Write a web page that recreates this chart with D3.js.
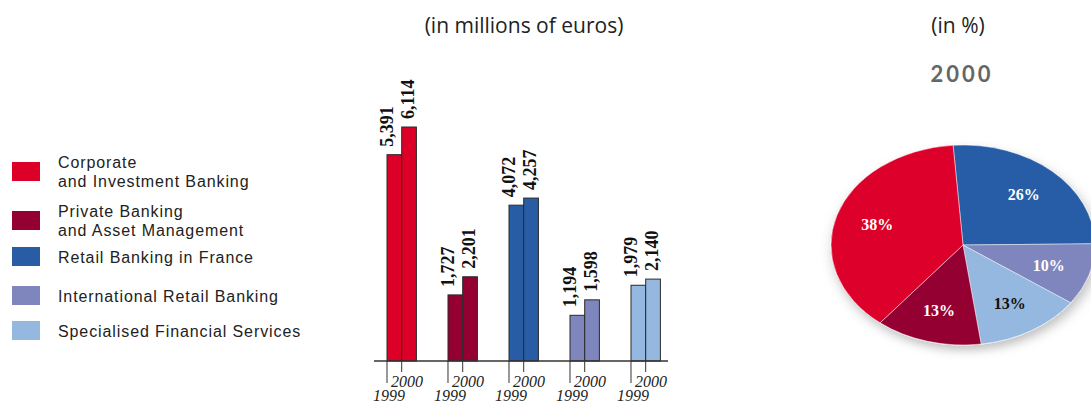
<!DOCTYPE html>
<html>
<head>
<meta charset="utf-8">
<script src="https://cdn.jsdelivr.net/npm/d3@7"></script>
<style>
  body { margin: 0; background: #fff; }
  svg { display: block; }
</style>
</head>
<body>
<svg id="chart" width="1091" height="403"></svg>
<script>
// data
var categories = ["Corporate\nand Investment Banking", "Private Banking\nand Asset Management",
  "Retail Banking in France", "International Retail Banking", "Specialised Financial Services"];
var years = ["1999", "2000"];
var values1999 = [5391, 1727, 4072, 1194, 1979];
var values2000 = [6114, 2201, 4257, 1598, 2140];
var pieShares = [38, 13, 26, 10, 13];      // 2000, in %
var pieOrder = [2, 3, 4, 1, 0];            // clockwise from top
var colors = ["#dc0029", "#940032", "#285da6", "#7e86bd", "#94b8df"];

var svg = d3.select("#chart");

// titles
svg.append("text").attr("x", 524).attr("y", 33).attr("text-anchor", "middle")
  .style("font-family", "Open Sans").style("font-size", "21px").attr("fill", "#222")
  .text("(in millions of euros)");
svg.append("text").attr("x", 958).attr("y", 33).attr("text-anchor", "middle")
  .style("font-family", "Open Sans").style("font-size", "21px").attr("fill", "#222")
  .text("(in %)");
svg.append("text").attr("x", 962).attr("y", 82).attr("text-anchor", "middle")
  .style("font-family", "Lato").style("font-weight", "bold").style("font-size", "22px")
  .style("letter-spacing", "3px").attr("fill", "#666")
  .text("2000");

// legend
var legendY = [162, 211, 247, 286, 321];
var lg = svg.append("g").selectAll("g").data(categories).enter().append("g")
  .attr("transform", function(d, i) { return "translate(0," + legendY[i] + ")"; });
lg.append("rect").attr("x", 12).attr("y", 0).attr("width", 28).attr("height", 19)
  .attr("fill", function(d, i) { return colors[i]; });
lg.append("text")
  .style("font-family", "Liberation Sans").style("font-size", "16px")
  .style("letter-spacing", "0.9px").attr("fill", "#222")
  .each(function(d) {
    var lines = d.split("\n");
    var t = d3.select(this);
    lines.forEach(function(l, k) {
      var y0 = lines.length > 1 ? 6 : 16;
      t.append("tspan").attr("x", 58).attr("y", y0 + k * 19).text(l);
    });
  });

// bars
var x0 = d3.scaleBand().domain(categories).range([387, 660.4]).paddingInner(0.518);
var x1 = d3.scaleBand().domain(years).range([0, x0.bandwidth()]);
var y = d3.scaleLinear().domain([0, 6114]).range([361, 127]);

var groups = svg.append("g").selectAll("g").data(categories).enter().append("g")
  .attr("transform", function(d) { return "translate(" + x0(d) + ",0)"; });

groups.each(function(c, i) {
  var g = d3.select(this);
  var vals = [values1999[i], values2000[i]];
  g.selectAll("rect").data(vals).enter().append("rect")
    .attr("x", function(d, j) { return x1(years[j]); })
    .attr("y", function(d) { return y(d); })
    .attr("width", x1.bandwidth())
    .attr("height", function(d) { return y(0) - y(d); })
    .attr("fill", colors[i])
    .attr("stroke", "#2a2a2a").attr("stroke-width", 1);

  g.selectAll("text.val").data(vals).enter().append("text")
    .attr("class", "val")
    .attr("transform", function(d, j) {
      var bx = x1(years[j]) + (j === 0 ? 6 : 12.5);
      return "translate(" + bx + "," + (y(d) - 8) + ") rotate(-90)";
    })
    .style("font-family", "Liberation Serif").style("font-weight", "bold")
    .style("font-size", "18px").attr("fill", "#111")
    .text(function(d) { return d3.format(",")(d); });

  // ticks below the axis
  g.append("line").attr("x1", x1("1999")).attr("x2", x1("1999"))
    .attr("y1", y(0)).attr("y2", 383).attr("stroke", "#333");
  g.append("line").attr("x1", x1("2000")).attr("x2", x1("2000"))
    .attr("y1", y(0)).attr("y2", 372).attr("stroke", "#333");

  g.append("text").attr("x", x1("1999") + 4).attr("y", 387)
    .style("font-family", "Liberation Serif").style("font-style", "italic")
    .style("font-size", "16px").attr("fill", "#222").text("2000");
  g.append("text").attr("x", x1("1999") - 14).attr("y", 401)
    .style("font-family", "Liberation Serif").style("font-style", "italic")
    .style("font-size", "16px").attr("fill", "#222").text("1999");
});

svg.append("line").attr("x1", 374).attr("x2", 668).attr("y1", y(0)).attr("y2", y(0))
  .attr("stroke", "#333").attr("stroke-width", 1.5);

// pie (elliptical)
var defs = svg.append("defs");
var f = defs.append("filter").attr("id", "shadow")
  .attr("x", "-20%").attr("y", "-20%").attr("width", "140%").attr("height", "140%");
f.append("feDropShadow").attr("dx", 2).attr("dy", 5).attr("stdDeviation", 5)
  .attr("flood-color", "#000").attr("flood-opacity", 0.25);

var rx = 132, ry = 100, cx = 963, cy = 245;
var start = -0.075;
var pie = d3.pie().sort(null).value(function(d) { return pieShares[d]; })
  .startAngle(start).endAngle(start + 2 * Math.PI);
var arcs = pie(pieOrder);
var arc = d3.arc().innerRadius(0).outerRadius(ry);

svg.append("g").attr("filter", "url(#shadow)")
  .attr("transform", "translate(" + cx + "," + cy + ") scale(" + (rx / ry) + ",1)")
  .selectAll("path").data(arcs).enter().append("path")
  .attr("d", arc)
  .attr("fill", function(d) { return colors[d.data]; })
  .attr("stroke", "#fff").attr("stroke-width", 0.4);

var labelArc = d3.arc().innerRadius(68).outerRadius(68);
svg.append("g").selectAll("text").data(arcs).enter().append("text")
  .attr("x", function(d) { return cx + labelArc.centroid(d)[0] * rx / ry; })
  .attr("y", function(d) { return cy + labelArc.centroid(d)[1]; })
  .attr("text-anchor", "middle").attr("dy", "0.35em")
  .style("font-family", "Liberation Serif").style("font-weight", "bold")
  .style("font-size", "16px")
  .attr("fill", function(d) { return d.data === 4 ? "#111" : "#fff"; })
  .text(function(d) { return pieShares[d.data] + "%"; });
</script>
</body>
</html>
